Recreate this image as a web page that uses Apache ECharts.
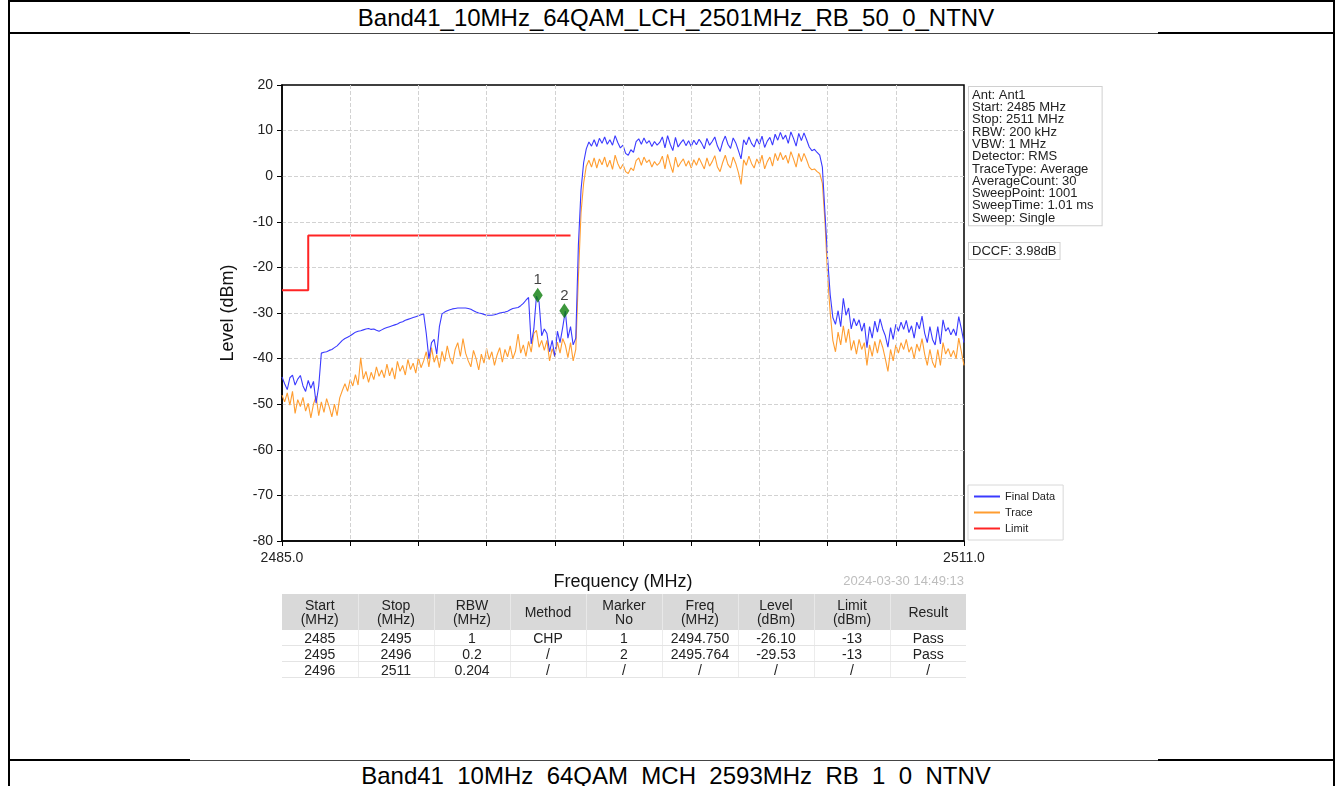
<!DOCTYPE html>
<html>
<head>
<meta charset="utf-8">
<title>Band41 LCH spectrum</title>
<script src="https://cdn.jsdelivr.net/npm/echarts@6.0.0/dist/echarts.min.js"></script>
<style>
  html, body { margin: 0; padding: 0; background: #fff; }
  body { width: 1340px; height: 786px; position: relative; overflow: hidden; font-family: "Liberation Sans", Arial, sans-serif; }
  .ln { position: absolute; background: #000; }
  .ttl { position: absolute; left: 8px; width: 1336px; text-align: center; font-size: 24px; color: #000; white-space: nowrap; }
  #chart { position: absolute; left: 0; top: 0; width: 1340px; height: 786px; }
  #tbl { position: absolute; left: 282px; top: 594px; width: 684px; border-collapse: collapse; table-layout: fixed;
         font-size: 14px; line-height: 14px; color: #222; text-align: center; }
  #tbl th { background: #d9d9d9; font-weight: normal; height: 36px; padding: 0; border-left: 1px solid #e8e8e8; }
  #tbl td { height: 15px; padding: 0; border-bottom: 1px solid #e4e4e4; border-left: 1px solid #ececec; }
  #tbl th:first-child, #tbl td:first-child { border-left: none; }
</style>
</head>
<body>
<!-- document table around the picture -->
<div class="ln" style="left:8px;top:0;width:1327px;height:2px"></div>
<div class="ln" style="left:8px;top:0;width:2px;height:786px"></div>
<div class="ln" style="left:1333px;top:0;width:2px;height:786px"></div>
<div class="ln" style="left:8px;top:32px;width:182px;height:2px"></div>
<div class="ln" style="left:190px;top:33px;width:968px;height:1px;background:#444"></div>
<div class="ln" style="left:1158px;top:32px;width:177px;height:2px"></div>
<div class="ln" style="left:8px;top:759px;width:182px;height:2px"></div>
<div class="ln" style="left:190px;top:760px;width:968px;height:1px;background:#444"></div>
<div class="ln" style="left:1158px;top:759px;width:177px;height:2px"></div>
<div class="ttl" style="top:4px">Band41_10MHz_64QAM_LCH_2501MHz_RB_50_0_NTNV</div>
<div class="ttl" style="top:762px">Band41_10MHz_64QAM_MCH_2593MHz_RB_1_0_NTNV</div>

<div id="chart"></div>
<table id="tbl"></table>

<script>
// sweep: 2485 .. 2511 MHz, one value every 0.1 MHz
var FREQ_START = 2485;
var FREQ_STOP = 2511;
var STEP = 0.1;

// Final Data (blue), one row per MHz
var finalLevel = [
  -44.0, -45.5, -46.8, -44.2, -43.6, -45.8, -44.5, -43.7, -46.0, -47.2,
  -44.8, -46.5, -45.0, -49.8, -46.0, -38.8, -38.6, -38.5, -38.2, -38.0,
  -37.6, -37.2, -36.6, -36.0, -35.6, -35.3, -35.0, -34.6, -34.2, -34.0,
  -33.9, -33.7, -33.5, -33.4, -33.6, -33.5, -33.8, -34.0, -33.7, -33.4,
  -33.2, -33.0, -32.8, -32.6, -32.4, -32.1, -31.9, -31.6, -31.4, -31.2,
  -31.0, -30.8, -30.6, -30.4, -30.2, -34.5, -40.0, -36.5, -35.8, -39.0,
  -33.0, -30.2, -29.8, -29.5, -29.3, -29.1, -29.0, -28.9, -28.9, -28.9,
  -28.9, -29.0, -29.2, -29.5, -29.8, -30.0, -30.1, -30.3, -30.5, -30.5,
  -30.5, -30.4, -30.2, -30.0, -29.9, -29.8, -29.6, -29.3, -29.0, -28.9,
  -28.8, -28.4, -27.9, -27.2, -26.6, -36.8, -33.5, -26.3, -27.6, -35.0,
  -33.5, -34.5, -38.5, -36.0, -39.5, -34.0, -36.5, -33.2, -29.6, -35.5,
  -33.0, -37.0, -35.5, -15.0, -3.0, 3.0, 6.0, 7.5, 6.6, 8.0,
  6.5, 8.3, 7.2, 8.6, 7.0, 8.0, 6.8, 8.9, 7.4, 6.2,
  6.8, 5.0, 4.6, 5.8, 5.2, 7.6, 8.2, 7.0, 8.4, 7.2,
  7.8, 6.5, 7.6, 6.8, 7.4, 8.6, 6.2, 8.9, 7.0, 5.6,
  8.5, 6.4, 7.3, 8.0, 6.7, 7.8, 6.5, 7.9, 6.9, 8.1,
  7.2, 6.0, 8.3, 6.8, 7.6, 8.6, 6.6, 5.4, 7.5, 8.8,
  7.0, 6.1, 8.4, 7.3, 5.6, 3.8, 8.0, 6.9, 8.6, 7.2,
  6.4, 8.2, 7.0, 8.8, 6.3, 7.7, 8.5, 6.8, 9.2, 7.9,
  9.6, 8.1, 9.0, 7.2, 9.7, 8.3, 6.6, 9.4, 7.8, 9.5,
  8.0, 6.4, 5.6, 5.9, 5.2, 4.6, 2.0, -8.0, -18.0, -26.0,
  -31.0, -32.5, -29.5, -33.0, -26.8, -30.5, -28.9, -33.5, -31.2, -32.8,
  -31.5, -34.0, -32.2, -37.6, -33.0, -35.5, -31.8, -34.2, -31.3, -33.5,
  -35.0, -37.5, -33.2, -35.8, -32.5, -34.0, -32.0, -33.6, -31.6, -34.3,
  -32.8, -35.5, -32.0, -33.5, -30.7, -34.4, -36.5, -33.0, -35.8, -37.0,
  -33.0, -36.8, -31.5, -34.0, -33.2, -34.8, -33.5, -35.0, -30.8, -33.5,
  -36.5
];

// Trace (orange)
var traceLevel = [
  -48.0, -49.5, -47.5, -50.2, -47.2, -52.0, -49.0, -50.5, -48.5, -51.5,
  -49.8, -53.0, -50.0, -48.2, -52.5, -49.5, -51.8, -48.8, -50.6, -52.8,
  -50.0, -52.5, -48.6, -47.0, -45.5, -47.2, -44.6, -46.0, -43.5, -45.8,
  -39.8, -44.5, -42.8, -45.2, -43.0, -44.6, -41.8, -43.9, -42.5, -44.2,
  -41.2, -43.8, -42.0, -44.5, -40.6, -42.8, -41.5, -43.6, -40.2, -42.4,
  -41.0, -43.2, -39.8, -42.0, -40.5, -38.5, -41.8, -37.6, -40.8, -39.2,
  -42.0, -38.4, -40.6, -37.2, -39.8, -41.2, -38.0, -36.5, -39.5, -35.6,
  -38.8, -40.5, -41.8, -38.2, -40.0, -42.5, -39.0, -41.0, -37.8, -40.2,
  -38.5, -41.5, -39.2, -37.6, -40.8, -38.0, -39.6, -37.2, -40.0, -38.4,
  -34.6, -38.8, -37.0, -39.5, -36.2, -38.6, -34.5, -33.8, -37.5, -36.0,
  -38.2, -36.0, -40.5, -37.8, -39.6, -36.4, -38.8, -35.6, -37.0, -39.8,
  -36.5, -40.5, -38.0, -22.0, -8.0, -1.5, 2.2, 3.5, 2.0, 4.0,
  1.8, 3.8, 2.5, 4.2, 2.0, 3.5, 1.5, 4.6, 2.8, 1.6,
  2.6, 1.0, 0.6, 1.8, 1.2, 3.4, 4.0, 2.4, 4.2, 3.0,
  3.6, 2.0, 3.2, 2.4, 3.0, 4.4, 1.6, 4.8, 2.6, 0.8,
  4.2, 2.0, 3.0, 3.8, 2.2, 3.4, 1.8, 3.6, 2.4, 4.0,
  2.8, 1.6, 4.0, 2.2, 3.2, 4.5, 2.0, 1.0, 3.0, 4.6,
  2.6, 1.8, 4.2, 2.8, 0.8, -1.8, 3.6, 2.4, 4.4, 2.8,
  1.8, 3.8, 2.6, 4.6, 1.6, 3.2, 4.2, 2.2, 5.0, 3.4,
  5.2, 3.6, 4.6, 2.8, 5.4, 3.8, 2.0, 5.0, 3.2, 5.0,
  3.6, 2.0, 1.4, 1.6, 1.0, 0.6, -1.5, -10.0, -22.0, -30.0,
  -36.0, -38.5, -34.2, -37.0, -32.8, -36.5, -33.5, -38.2, -36.0, -39.0,
  -35.8, -38.0, -36.5, -41.5, -37.0, -39.5, -36.2, -38.8, -35.8, -37.5,
  -40.0, -42.8, -38.0, -40.5, -37.0, -38.8, -36.5, -38.0, -35.8, -38.6,
  -37.4, -40.0, -36.8, -38.4, -35.6, -39.0, -41.5, -38.0, -40.8, -42.0,
  -38.0, -41.5, -36.5, -39.0, -37.8, -39.6, -38.2, -40.0, -35.5, -38.5,
  -41.5
];

// limit line
var limitFreq = [2485, 2486, 2486, 2496];
var limitLevel = [-25, -25, -13, -13];

// markers
var markerNo = ['1', '2'];
var markerFreq = [2494.750, 2495.764];
var markerLevel = [-26.10, -29.53];

// y axis
var levelMin = -80;
var levelMax = 20;
var levelStep = 10;

// instrument settings box
var infoLines = [
  'Ant: Ant1', 'Start: 2485 MHz', 'Stop: 2511 MHz', 'RBW: 200 kHz', 'VBW: 1 MHz',
  'Detector: RMS', 'TraceType: Average', 'AverageCount: 30', 'SweepPoint: 1001',
  'SweepTime: 1.01 ms', 'Sweep: Single'
];
var dccfText = 'DCCF: 3.98dB';
var stampText = '2024-03-30 14:49:13';

// result table
var tableHead = ['Start<br>(MHz)', 'Stop<br>(MHz)', 'RBW<br>(MHz)', 'Method', 'Marker<br>No', 'Freq<br>(MHz)', 'Level<br>(dBm)', 'Limit<br>(dBm)', 'Result'];
var colStart = ['2485', '2495', '2496'];
var colStop = ['2495', '2496', '2511'];
var colRbw = ['1', '0.2', '0.204'];
var colMethod = ['CHP', '/', '/'];
var colMarker = ['1', '2', '/'];
var colFreq = ['2494.750', '2495.764', '/'];
var colLevel = ['-26.10', '-29.53', '/'];
var colLimit = ['-13', '-13', '/'];
var colResult = ['Pass', 'Pass', '/'];

// ---- build table
var html = '<tr>' + tableHead.map(function (h) { return '<th>' + h + '</th>'; }).join('') + '</tr>';
for (var r = 0; r < colStart.length; r++) {
  var cells = [colStart[r], colStop[r], colRbw[r], colMethod[r], colMarker[r], colFreq[r], colLevel[r], colLimit[r], colResult[r]];
  html += '<tr>' + cells.map(function (c) { return '<td>' + c + '</td>'; }).join('') + '</tr>';
}
document.getElementById('tbl').innerHTML = html;

// ---- chart (x axis runs in MHz offset from start so that ticks fall every 2.6 MHz)
var span = FREQ_STOP - FREQ_START;
function pts(levels) {
  return levels.map(function (v, i) { return [i * STEP, v]; });
}
function pairs(freqs, levels) {
  return freqs.map(function (f, i) { return [f - FREQ_START, levels[i]]; });
}

var chart = echarts.init(document.getElementById('chart'));
var font = '"Liberation Sans", Arial, sans-serif';
var gridLine = { show: true, showMinLine: false, showMaxLine: false, lineStyle: { color: '#d2d2d2', width: 1, type: [4, 2] } };

chart.setOption({
  animation: false,
  textStyle: { fontFamily: font },
  grid: { left: 282, top: 85, width: 682, height: 456, show: true, borderColor: '#000', borderWidth: 1.5, backgroundColor: '#fff' },
  legend: {
    data: ['Final Data', 'Trace', 'Limit'],
    orient: 'vertical', left: 968, top: 485, z: 1,
    icon: 'rect', itemWidth: 26, itemHeight: 2, itemGap: 5,
    padding: [6, 8, 6, 6],
    borderColor: '#d8d8d8', borderWidth: 1, backgroundColor: '#fff',
    textStyle: { fontSize: 11, color: '#222' }
  },
  xAxis: {
    type: 'value', min: 0, max: span, interval: 2.6, z: 5,
    name: 'Frequency (MHz)', nameLocation: 'middle', nameGap: 32,
    nameTextStyle: { fontSize: 18, color: '#111' },
    axisLine: { onZero: false, lineStyle: { color: '#000', width: 1.5 } },
    axisTick: { show: true, length: 5, lineStyle: { color: '#000' } },
    axisLabel: {
      fontSize: 14, color: '#222', margin: 10, showMinLabel: true, showMaxLabel: true,
      formatter: function (v) {
        if (Math.abs(v) < 1e-6 || Math.abs(v - span) < 1e-6) return (FREQ_START + v).toFixed(1);
        return '';
      }
    },
    splitLine: gridLine
  },
  yAxis: {
    type: 'value', min: levelMin, max: levelMax, interval: levelStep,
    name: 'Level (dBm)', nameLocation: 'middle', nameGap: 45,
    nameTextStyle: { fontSize: 18, color: '#111' },
    axisLine: { show: true, onZero: false, lineStyle: { color: '#000', width: 1.5 } },
    axisTick: { show: true, length: 5, lineStyle: { color: '#000' } },
    axisLabel: { fontSize: 14, color: '#222', margin: 9 },
    splitLine: gridLine
  },
  graphic: [
    {
      type: 'text', left: 968, top: 86, z: 100,
      style: {
        text: infoLines.join('\n'), font: '13px ' + font, lineHeight: 12.3, fill: '#222',
        backgroundColor: '#fff', borderColor: '#d0d0d0', borderWidth: 1, padding: [2, 8, 1, 3]
      }
    },
    {
      type: 'text', left: 968, top: 242, z: 100,
      style: {
        text: dccfText, font: '13px ' + font, fill: '#222',
        backgroundColor: '#fff', borderColor: '#d0d0d0', borderWidth: 1, padding: [2, 3, 1, 3]
      }
    },
    {
      type: 'text', right: 376, top: 575, z: 100,
      style: { text: stampText, font: '13px ' + font, fill: '#bdbdbd' }
    }
  ],
  series: [
    {
      name: 'Final Data', type: 'line', data: pts(finalLevel), symbol: 'none',
      color: '#3a3aff', lineStyle: { width: 1.1 }, z: 3
    },
    {
      name: 'Trace', type: 'line', data: pts(traceLevel), symbol: 'none',
      color: '#ff9d30', lineStyle: { width: 1.1 }, z: 2
    },
    {
      name: 'Limit', type: 'line', data: pairs(limitFreq, limitLevel), symbol: 'none',
      color: '#ff2424', lineStyle: { width: 2 }, z: 4
    },
    {
      name: 'Markers', type: 'scatter', data: pairs(markerFreq, markerLevel),
      symbol: 'diamond', symbolSize: [10, 15], itemStyle: { color: '#0b7d0b' }, z: 5,
      label: {
        show: true, position: 'top', distance: 0, fontSize: 15, color: '#111',
        formatter: function (p) { return markerNo[p.dataIndex]; }
      }
    }
  ]
});
</script>
</body>
</html>
